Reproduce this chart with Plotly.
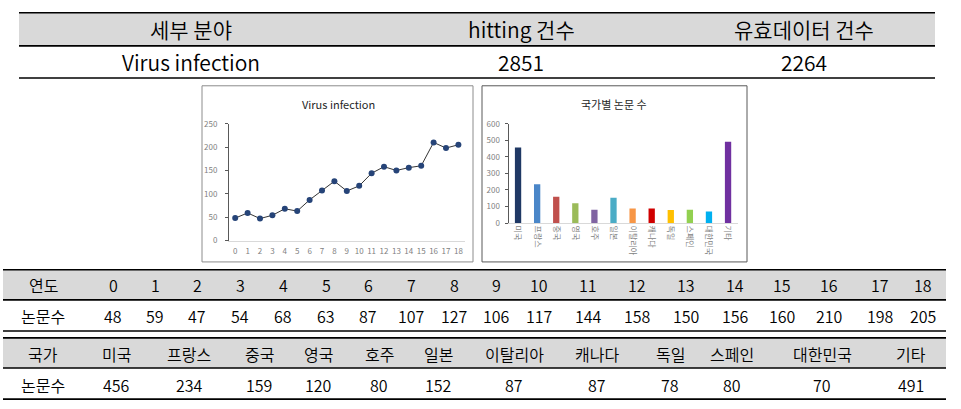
import plotly.graph_objects as go

W, H = 961, 409

# ---------------- data ----------------
summary_headers = ["세부 분야", "hitting 건수", "유효데이터 건수"]
summary_values = ["Virus infection", "2851", "2264"]

years = list(range(19))
year_counts = [48, 59, 47, 54, 68, 63, 87, 107, 127, 106, 117, 144, 158, 150, 156, 160, 210, 198, 205]

countries = ["미국", "프랑스", "중국", "영국", "호주", "일본", "이탈리아", "캐나다", "독일", "스페인", "대한민국", "기타"]
country_counts = [456, 234, 159, 120, 80, 152, 87, 87, 78, 80, 70, 491]

line_title = "Virus infection"
bar_title = "국가별 논문 수"
year_row_labels = ["연도", "논문수"]
country_row_labels = ["국가", "논문수"]

# ---------------- styles / layout ----------------
bar_colors = ["#1f3864", "#4a86c8", "#c0504d", "#9bbb59", "#8064a2", "#4bacc6",
              "#f79646", "#d00000", "#ffc000", "#92d050", "#00b0f0", "#7030a0"]
FONT = "Noto Sans CJK KR"

summary_x = [191, 521, 804]
label_x = 43
year_x = [113, 155, 197, 240, 283, 326, 368, 411, 454, 496, 539, 588, 637, 686, 735, 782, 829, 880, 923]
country_x = [116, 189, 259, 318, 379, 438, 514, 597, 670, 732, 822, 911]


def px(x):
    return x / W


def py(y):
    return 1 - y / H


fig = go.Figure()

fig.add_trace(go.Scatter(
    x=years, y=year_counts, xaxis="x", yaxis="y", mode="lines+markers",
    line=dict(color="#333333", width=1),
    marker=dict(color="#264478", size=6),
    showlegend=False, hoverinfo="skip"))

fig.add_trace(go.Bar(
    x=countries, y=country_counts, xaxis="x2", yaxis="y2",
    width=0.33, marker=dict(color=bar_colors, line=dict(width=0)),
    showlegend=False, hoverinfo="skip"))

shapes = []


def hline(y, x0, x1, w=1.6):
    shapes.append(dict(type="line", xref="paper", yref="paper",
                       x0=px(x0), x1=px(x1), y0=py(y), y1=py(y),
                       line=dict(color="black", width=w)))


def band(y0, y1, x0, x1):
    shapes.append(dict(type="rect", xref="paper", yref="paper", layer="below",
                       x0=px(x0), x1=px(x1), y0=py(y1), y1=py(y0),
                       fillcolor="#d9d9d9", line=dict(width=0)))


# top summary table
band(7, 41, 19, 935)
hline(7, 19, 935)
hline(41, 19, 935)
hline(74, 19, 935)
# year table
band(271, 302, 3, 946)
hline(271, 3, 946)
hline(302, 3, 946)
hline(334, 3, 946)
# country table
band(341, 372, 3, 946)
hline(341, 3, 946)
hline(372, 3, 946)
hline(404, 3, 946)

# chart panels
shapes.append(dict(type="rect", xref="paper", yref="paper", layer="below",
                   x0=px(202), x1=px(473), y0=py(263), y1=py(82),
                   line=dict(color="#8c8c8c", width=1), fillcolor="white"))
shapes.append(dict(type="rect", xref="paper", yref="paper", layer="below",
                   x0=px(482), x1=px(747), y0=py(263), y1=py(82),
                   line=dict(color="#595959", width=1), fillcolor="white"))

annotations = []


def text(x, y, s, size=16, color="black", weight=350):
    annotations.append(dict(x=px(x), y=py(y), xref="paper", yref="paper",
                            text=s, showarrow=False, xanchor="center", yanchor="middle",
                            font=dict(family=FONT, size=size, color=color, weight=weight)))


for xc, h, v in zip(summary_x, summary_headers, summary_values):
    text(xc, 24, h, size=21)
    text(xc, 58, v, size=21)

text(label_x, 287, year_row_labels[0])
text(label_x, 319, year_row_labels[1])
for xc, yv, c in zip(year_x, years, year_counts):
    text(xc, 287, str(yv))
    text(xc, 319, str(c))

text(label_x, 358, country_row_labels[0])
text(label_x, 389, country_row_labels[1])
for xc, name, c in zip(country_x, countries, country_counts):
    text(xc, 358, name)
    text(xc, 389, str(c))

text(338, 101, line_title, size=11, color="#262626", weight=400)
text(614, 101, bar_title, size=11, color="#262626", weight=400)

tick_font = dict(family=FONT, size=8, color="#7f7f7f")

fig.update_layout(
    width=W, height=H, margin=dict(l=0, r=0, t=0, b=0),
    paper_bgcolor="white", plot_bgcolor="rgba(0,0,0,0)",
    shapes=shapes, annotations=annotations,
    xaxis=dict(domain=[px(229), px(464.6)], range=[-0.5, 18.5],
               tickvals=years, ticktext=[str(v) for v in years],
               showline=True, linecolor="#d9d9d9", linewidth=1,
               showgrid=False, zeroline=False, ticks="",
               tickfont=tick_font, ticklabelstandoff=3, fixedrange=True),
    yaxis=dict(domain=[py(241), py(121)], range=[0, 250], dtick=50,
               showline=True, linecolor="#595959", linewidth=1,
               ticks="outside", ticklen=3, tickcolor="#595959",
               showgrid=False, zeroline=False,
               tickfont=tick_font, ticklabelstandoff=6, fixedrange=True),
    xaxis2=dict(domain=[px(508.5), px(737.6)], type="category",
                range=[-0.5, 11.5], anchor="y2",
                showline=True, linecolor="#d9d9d9", linewidth=1,
                showgrid=False, zeroline=False, ticks="", tickangle=90,
                tickfont=tick_font, fixedrange=True),
    yaxis2=dict(domain=[py(223), py(121)], range=[0, 600], dtick=100, anchor="x2",
                showline=True, linecolor="#595959", linewidth=1,
                ticks="outside", ticklen=3, tickcolor="#595959",
                showgrid=False, zeroline=False,
                tickfont=tick_font, ticklabelstandoff=3, fixedrange=True),
    bargap=0.67,
)

fig.write_html(
    "out.html",
    config={"displayModeBar": False},
    post_script="document.body.style.margin='0';document.body.style.padding='0';"
                "document.documentElement.style.overflow='hidden';",
)
